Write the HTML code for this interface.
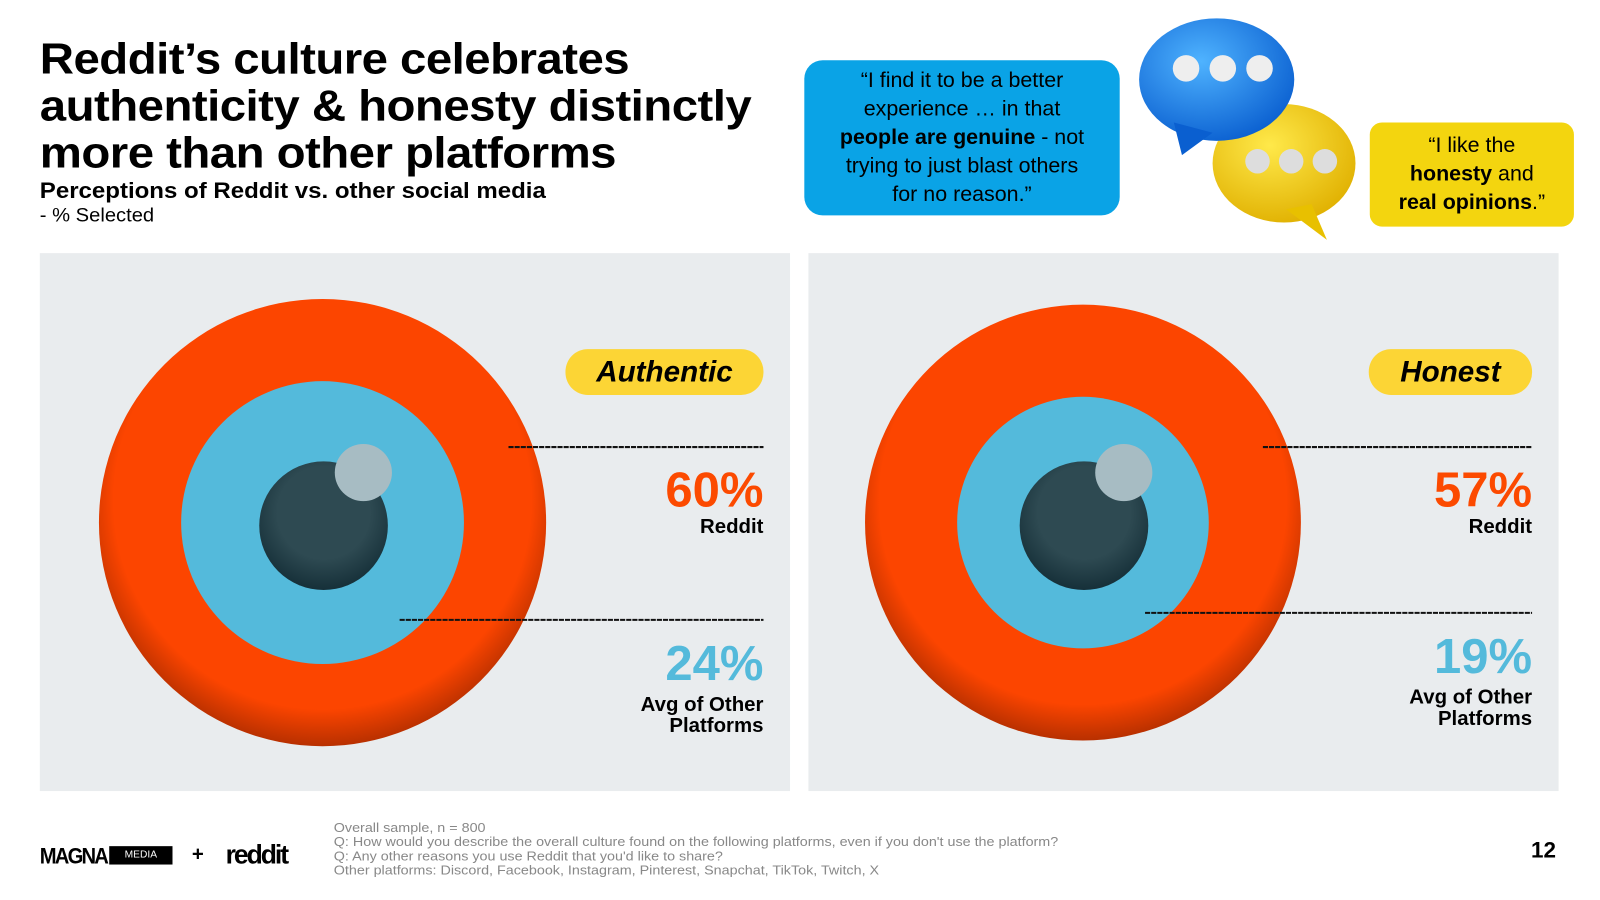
<!DOCTYPE html>
<html><head><meta charset="utf-8"><style>
body{margin:0;width:1600px;height:900px;background:#fff;position:relative;overflow:hidden;font-family:"Liberation Sans",sans-serif;color:#000}
#wrap{position:absolute;left:0;top:0;width:1568px;height:882px;transform:scale(1.0207);transform-origin:0 0}
.abs{position:absolute}
#title{left:39px;top:35px;font-size:43px;font-weight:bold;line-height:46px;letter-spacing:-0.5px;transform:scaleX(1.08);transform-origin:left top;white-space:nowrap}
#sub{left:39px;top:174px;font-size:22px;font-weight:bold;transform:scaleX(1.07);transform-origin:left top;white-space:nowrap}
#sub2{left:39px;top:201px;font-size:19px;transform:scaleX(1.04);transform-origin:left top}
.q{text-align:center;font-size:21px;line-height:28px;border-radius:18px;white-space:nowrap}
.foot{left:327px;top:804px;font-size:13px;color:#888;line-height:14px;transform:scaleX(1.08);transform-origin:left top;white-space:nowrap}
</style></head><body><div id="wrap">
<div class="abs" id="title">Reddit’s culture celebrates<br>authenticity &amp; honesty distinctly<br>more than other platforms</div>
<div class="abs" id="sub">Perceptions of Reddit vs. other social media</div>
<div class="abs" id="sub2">- % Selected</div>
<div class="abs q" style="left:788px;top:59px;width:309px;height:152px;background:#0aa3e6;padding-top:6px;box-sizing:border-box">“I find it to be a better<br>experience … in that<br><b>people are genuine</b> - not<br>trying to just blast others<br>for no reason.”</div>
<div class="abs q" style="left:1342px;top:120px;width:200px;height:102px;background:#f3d50f;padding-top:9px;box-sizing:border-box;border-radius:12px">“I like the<br><b>honesty</b> and<br><b>real opinions</b>.”</div>
<svg class="abs" style="left:1110px;top:10px" width="230" height="230">
<defs><radialGradient id="gb" cx="40%" cy="35%" r="70%"><stop offset="0" stop-color="#4fb3ff"/><stop offset="1" stop-color="#0a5fd0"/></radialGradient>
<radialGradient id="gy" cx="40%" cy="35%" r="70%"><stop offset="0" stop-color="#ffe94a"/><stop offset="1" stop-color="#e0b000"/></radialGradient></defs>
<ellipse cx="148" cy="150" rx="70" ry="58" fill="url(#gy)"/><path d="M150 195 L190 225 L175 190Z" fill="#e8c000"/>
<circle cx="122" cy="148" r="12" fill="#ddd"/><circle cx="155" cy="148" r="12" fill="#ddd"/><circle cx="188" cy="148" r="12" fill="#ddd"/>
<ellipse cx="82" cy="68" rx="76" ry="60" fill="url(#gb)"/><path d="M40 110 L48 142 L78 120Z" fill="#0a5fd0"/>
<circle cx="52" cy="57" r="13" fill="#eee"/><circle cx="88" cy="57" r="13" fill="#eee"/><circle cx="124" cy="57" r="13" fill="#eee"/>
</svg>
<svg class="abs" style="left:0;top:0" width="1568" height="882" id="chart">
<defs><radialGradient id="og" cx="50%" cy="45%" r="55%"><stop offset="0.85" stop-color="#fc4500"/><stop offset="1" stop-color="#b83000"/></radialGradient>
<radialGradient id="pg" cx="50%" cy="40%" r="60%"><stop offset="0.6" stop-color="#2e4a52"/><stop offset="1" stop-color="#163039"/></radialGradient></defs>
</svg>
<div class="abs" style="left:39px;top:826px;font-size:22px;font-weight:bold;letter-spacing:-2px;transform:scaleX(0.9);transform-origin:left">MAGNA</div>
<div class="abs" style="left:107px;top:829px;width:62px;height:18px;background:#000;color:#fff;font-size:10px;text-align:center;line-height:18px">MEDIA TRIALS</div>
<div class="abs" style="left:188px;top:826px;font-size:20px;font-weight:bold">+</div>
<div class="abs" style="left:221px;top:822px;font-size:26px;font-weight:bold;letter-spacing:-2px">reddit</div>
<div class="abs foot">Overall sample, n = 800<br>Q: How would you describe the overall culture found on the following platforms, even if you don't use the platform?<br>Q: Any other reasons you use Reddit that you'd like to share?<br>Other platforms: Discord, Facebook, Instagram, Pinterest, Snapchat, TikTok, Twitch, X</div>
<div class="abs" style="left:1500px;top:820px;font-size:22px;font-weight:bold">12</div>
</div>
<script>
const categories=["Authentic","Honest"];
const redditValues=[60,57];
const otherValues=[24,19];
const svg=document.getElementById('chart');
const NS='http://www.w3.org/2000/svg';
const panelX=[39,792], panelW=735, cy=512;
const k=28.28;
function r(v){return k*Math.sqrt(v);}
function mk(t,a,p){const e=document.createElementNS(NS,t);for(const x in a)e.setAttribute(x,a[x]);(p||svg).appendChild(e);return e;}
categories.forEach((c,i)=>{
  const px=panelX[i];
  const rect=mk('rect',{x:px,y:248,width:panelW,height:527,fill:'#e9ecee'});
  
  
  const cx=px+277+(i?-8:0);
  const ro=r(redditValues[i]), rb=r(otherValues[i]);
  const o=mk('circle',{cx:cx,cy:cy,r:ro,fill:'url(#og)'});
  
  
  const b=mk('circle',{cx:cx,cy:cy,r:rb,fill:'#54badb'});
  
  
  const p=mk('circle',{cx:cx+1,cy:cy+3,r:63,fill:'url(#pg)'});
  
  
  const h=mk('circle',{cx:cx+40,cy:cy-49,r:28,fill:'#a7bcc3'});
  
  
  const right=px+709;
  const y1=438, y2=cy+0.45*rb+33;
  const x1=cx+Math.sqrt(Math.max(0,ro*ro-(y1-cy)*(y1-cy)))-24;
  const x2=cx+Math.sqrt(Math.max(0,rb*rb-(y2-cy)*(y2-cy)))-25;
  const l1=mk('line',{x1:x1,y1:y1,x2:right,y2:y1,stroke:'#111','stroke-width':2,'stroke-dasharray':'5 1'});
  
  
  const l2=mk('line',{x1:x2,y1:y2,x2:right,y2:y2,stroke:'#111','stroke-width':2,'stroke-dasharray':'5 1'});
  
  
  const pw=i?160:194;
  const pill=mk('rect',{x:right-pw,y:342,width:pw,height:45,rx:22,fill:'#fcd535'});
  
  
  const t=mk('text',{x:right-pw/2,y:374,'text-anchor':'middle','font-size':29,'font-weight':'bold','font-style':'italic','font-family':'Liberation Sans'});t.textContent=c;
  
  
  const v1=mk('text',{x:right,y:496,'text-anchor':'end','font-size':48,'font-weight':'bold',fill:'#fc4a00','font-family':'Liberation Sans'});v1.textContent=redditValues[i]+'%';
  
  
  const n1=mk('text',{x:right,y:522,'text-anchor':'end','font-size':20,'font-weight':'bold','font-family':'Liberation Sans'});n1.textContent='Reddit';
  
  
  const vy=y2+59;
  const v2=mk('text',{x:right,y:vy,'text-anchor':'end','font-size':48,'font-weight':'bold',fill:'#54badb','font-family':'Liberation Sans'});v2.textContent=otherValues[i]+'%';
  
  
  const n2=mk('text',{x:right,y:vy+30,'text-anchor':'end','font-size':20,'font-weight':'bold','font-family':'Liberation Sans'});n2.textContent='Avg of Other';
  
  
  const n3=mk('text',{x:right,y:vy+51,'text-anchor':'end','font-size':20,'font-weight':'bold','font-family':'Liberation Sans'});n3.textContent='Platforms';
  
  
});
</script>
</body></html>
